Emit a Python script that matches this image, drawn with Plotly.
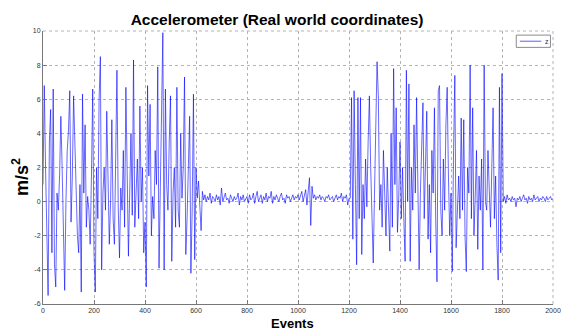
import plotly.graph_objects as go

TITLE = "Accelerometer (Real world coordinates)"
X_LABEL = "Events"
Y_LABEL = "m/s<sup>2</sup>"
SERIES_NAME = "z"
STEP = 5

active_1 = [
    1.0, 6.8, 2.0, -1.0, -5.5, 3.5, 5.4, -3.0, 6.6, -3.7,
    -5.0, 0.5, -0.5, 1.5, 5.0, 2.0, -1.8, -5.2, 0.0, 3.0,
    4.2, 6.5, -1.2, 1.5, 6.2, 3.0, 0.5, -2.0, -3.0, 1.0,
    -5.3, 6.3, 0.5, 4.5, -1.5, 0.3, -0.5, -2.5, 1.5, 6.6,
    -3.0, -5.3, 2.0, -1.0, 6.0, 8.5, -4.0, 0.5, 2.0, -0.5,
    5.3, 1.0, -2.5, 0.0, 4.8, -1.0, -2.5, 2.5, 7.7, -0.3,
    -3.3, 0.8, -0.5, 3.0, -1.5, 6.7, 1.0, -3.2, 0.5, 4.0,
    -0.8, 8.3, -1.5, 0.5, 2.5, -1.0, 5.6, 0.0, 2.0, -3.0,
    -1.2, -5.0, 6.8, 1.5, 5.7, -2.0, 0.3, -1.0, 3.0, 1.0,
    7.9, -3.9, 0.0, 4.5, 9.9, -4.0, 6.6, 1.0, -0.5, 3.5,
    6.2, -3.5, 0.5, 2.0, -1.5, 6.7, -0.5, -1.5, 4.0, 0.2,
    2.0, 7.3, -3.1, -1.0, 1.5, 5.0, -4.2, -0.5, 6.3, -3.4,
    2.0,
]

quiet_1 = [
    0.2, 1.2, -0.2, -1.7, 0.6, 0.1, 0.4, 0.0, 0.3, 0.1,
    0.5, -0.1, 0.3, 0.2, 0.0, 0.4, 0.1, 0.3, -0.2, 0.8,
    0.0, 0.3, 0.5, 0.1, 0.2, -0.1, 0.4, 0.2, 0.0, 0.3,
    0.1, 0.2, 0.5, -0.2, 0.3, 0.1, 0.4, 0.0, 0.2, 0.3,
    -0.1, 0.4, 0.1, 0.2, 0.5, -0.1, 0.3, 0.6, 0.0, 0.2,
    0.4, -0.1, 0.3, 0.1, 0.5, 0.0, 0.3, 0.2, 0.6, -0.1,
    0.3, 0.1, 0.4, 0.2, 0.0, 0.3, 0.5, 0.1, 0.2, -0.1,
    0.4, 0.2, 0.3, 0.0, 0.2, 0.4, 0.1, 0.3, 0.2, 0.4,
    0.1, 0.3, 0.6, 0.0, 0.4, 0.7, -0.2, 0.8, 1.4, -1.4,
    0.9, 0.2, 0.4, 0.1, 0.3, 0.2, 0.4, 0.1, 0.3, 0.2,
    0.0, 0.3, 0.2, 0.4, 0.1, 0.2, 0.3, 0.0, 0.2, 0.4,
    0.1, 0.3, 0.2, 0.5, 0.0, 0.3, 0.2, 0.4, -0.2, 0.2,
]

active_2 = [
    0.2, 6.1, -2.2, 6.5, 1.0, -3.7, 6.1, -1.0, 6.1, -3.1,
    1.0, -1.0, 2.5, -0.3, 3.5, 6.2, 2.0, -1.5, -3.6, 0.5,
    4.0, 8.2, 6.2, -0.5, 1.0, -1.5, 3.0, 0.5, -2.0, 2.0,
    -0.5, -2.9, 4.0, -1.5, 7.8, 1.0, 5.5, -1.8, 0.2, 3.5,
    -1.0, 2.0, -1.0, -3.5, 7.7, 0.0, 6.9, -3.5, 2.0, -0.5,
    4.5, 0.5, 6.1, 1.5, -4.0, 0.5, 3.0, 5.8, -1.0, 1.5,
    5.3, -2.2, 1.0, -3.0, 3.0, 0.5, 5.5, -1.0, -4.7, 6.5,
    6.8, -0.5, -2.0, 2.5, -0.5, 4.5, 6.7, 1.5, -2.0, 0.5,
    -4.1, 3.0, 7.4, -2.7, 0.0, 1.5, -1.0, 4.9, -0.5, 4.8,
    -2.0, -4.1, 2.0, 0.5, 8.0, -1.0, 5.5, -2.0, 0.3, 3.0,
    -2.8, 1.5, -0.5, 2.5, -4.0, 8.0, 0.0, -0.5, 3.0, 0.5,
    -1.5, 2.0, 5.5, -1.0, 1.5, -2.5, -4.6, 6.7, -3.0, 7.5,
    0.0,
]

quiet_2 = [
    0.3, -0.1, 0.4, 0.1, 0.2, 0.0, 0.3, 0.1, 0.2, -0.3,
    0.2, 0.1, 0.3, 0.0, 0.2, 0.4, 0.1, 0.2, -0.1, 0.3,
    0.1, 0.2, 0.0, 0.4, 0.1, 0.2, 0.3, 0.0, 0.2, 0.1,
    0.3, 0.2, 0.0, 0.3, 0.1, 0.2, 0.3, 0.1, 0.2,
]

x_ticks = [0, 200, 400, 600, 800, 1000, 1200, 1400, 1600, 1800, 2000]
y_ticks = [-6, -4, -2, 0, 2, 4, 6, 8, 10]

z_values = active_1 + quiet_1 + active_2 + quiet_2
events = [i * STEP for i in range(len(z_values))]

FONT = "Liberation Sans, Arial, sans-serif"
LINE_COLOR = "#0000ff"
GRID = "#b4b4b4"

fig = go.Figure()
fig.add_trace(go.Scatter(
    x=events, y=z_values, mode="lines", name=SERIES_NAME,
    line=dict(color=LINE_COLOR, width=0.6), showlegend=False,
))

axis_font = dict(family=FONT, size=7, color="#333333")
fig.update_layout(
    width=561, height=330,
    paper_bgcolor="white", plot_bgcolor="white",
    margin=dict(l=43, r=8, t=31, b=26, autoexpand=False),
    title=dict(text="<b>" + TITLE + "</b>", xref="paper", x=0.459, xanchor="center",
               yref="container", y=0.941, yanchor="middle",
               font=dict(family=FONT, size=15.5, color="black")),
    showlegend=False,
    shapes=[
        # dotted top and right frame like the grid
        dict(type="line", xref="paper", yref="paper", x0=0, x1=1, y0=1, y1=1,
             line=dict(color=GRID, width=1, dash="dot"), layer="below"),
        dict(type="line", xref="paper", yref="paper", x0=1, x1=1, y0=0, y1=1,
             line=dict(color=GRID, width=1, dash="dot"), layer="below"),
        # legend box
        dict(type="rect", xref="paper", yref="paper", x0=0.928, x1=0.995, y0=0.94, y1=0.985,
             line=dict(color="#8a8a8a", width=1), fillcolor="white", layer="above"),
        dict(type="line", xref="paper", yref="paper", x0=0.935, x1=0.977, y0=0.9625, y1=0.9625,
             line=dict(color="#7777ff", width=1.2), layer="above"),
    ],
    annotations=[
        dict(text=SERIES_NAME, xref="paper", yref="paper", x=0.981, y=0.9625,
             xanchor="left", yanchor="middle", showarrow=False,
             font=dict(family=FONT, size=7, color="#333333")),
        dict(text="<b>" + X_LABEL + "</b>", xref="paper", yref="paper", x=0.49, y=-0.071,
             xanchor="center", yanchor="middle", showarrow=False,
             font=dict(family=FONT, size=13, color="black")),
        dict(text="<b>" + Y_LABEL + "</b>", xref="paper", yref="paper", x=-0.045, y=0.465,
             xanchor="center", yanchor="middle", textangle=-90, showarrow=False,
             font=dict(family=FONT, size=18, color="black")),
    ],
)
fig.update_xaxes(
    range=[0, 2000], tickvals=x_ticks, ticktext=[str(v) for v in x_ticks],
    showgrid=True, gridcolor=GRID, griddash="dot", gridwidth=1,
    showline=True, linecolor="#777777", linewidth=1, mirror=False,
    ticks="inside", ticklen=4, tickcolor="#777777", zeroline=False,
    tickfont=axis_font, automargin=False, ticklabeloverflow="allow",
)
fig.update_yaxes(
    range=[-6, 10], tickvals=y_ticks, ticktext=[str(v) for v in y_ticks],
    showgrid=True, gridcolor=GRID, griddash="dot", gridwidth=1,
    showline=True, linecolor="#777777", linewidth=1, mirror=False,
    ticks="inside", ticklen=4, tickcolor="#777777", zeroline=False,
    tickfont=axis_font, automargin=False, ticklabeloverflow="allow",
)

# remove the default 8px page margin so the 561x330 figure fills the window exactly
fig.write_html("out.html", config={"displayModeBar": False},
               post_script="document.body.style.margin='0';document.body.style.overflow='hidden';")
